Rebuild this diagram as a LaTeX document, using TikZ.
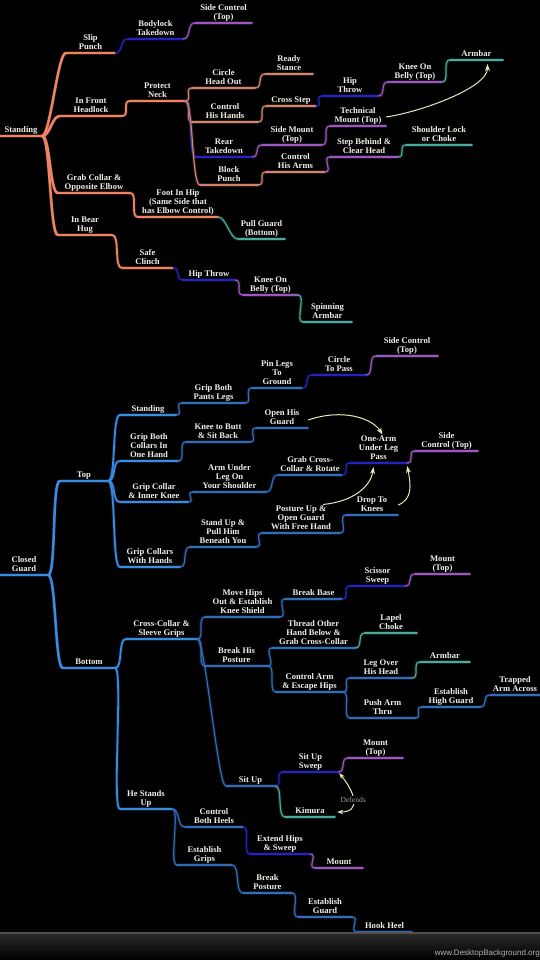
\documentclass[tikz,border=0pt]{standalone}
\usepackage{fontspec}
\setmainfont{Liberation Serif}
\newfontfamily\wmfont{Liberation Sans}
\usetikzlibrary{arrows.meta}
\definecolor{ember}{HTML}{EE8464}
\definecolor{peach}{HTML}{CF8470}
\definecolor{sky}{HTML}{3A8CE2}
\definecolor{steel}{HTML}{336DBA}
\definecolor{navy}{HTML}{2424BE}
\definecolor{plum}{HTML}{9C58C0}
\definecolor{sea}{HTML}{4AAA9C}
\definecolor{paper}{HTML}{F0EEE8}
\definecolor{straw}{HTML}{ECE9B8}
\definecolor{lemon}{HTML}{F7F27A}
\definecolor{ash}{HTML}{A0A0A0}
\definecolor{bandtop}{HTML}{2A2A2A}
\definecolor{bandline}{HTML}{505050}
\newcommand\mapfont{\fontsize{8.6}{9.1}\selectfont\bfseries}
\tikzset{
  uline/.style={draw=#1, line width=1.2pt, line cap=round,
    preaction={draw=#1, line width=3.4pt, opacity=.2}},
  midline/.style={uline=#1, line width=1.8pt},
  bigline/.style={uline=#1, line width=2.5pt},
  topic/.style={text=paper, font=\mapfont, align=center, anchor=south,
    inner xsep=0pt, inner ysep=1.2pt, text depth=1.8pt,
    append after command={\pgfextra{\let\topicnode\tikzlastnode}
      (\topicnode.south west) edge[#1] (\topicnode.south east)}},
  link/.style={to path={.. controls +(8,0) and +(-8,0) .. (\tikztotarget)}},
  hint/.style={draw=straw, line width=1pt,
    -{Stealth[length=7pt, width=5pt, fill=lemon]}},
  both/.style={{Stealth[length=6pt, width=4.5pt, fill=lemon]}-{Stealth[length=6pt, width=4.5pt, fill=lemon]}},
  defends/.style={fill=black, text=ash, font=\fontsize{7.5}{8}\selectfont, inner sep=1.5pt},
  wm/.style={anchor=east, inner sep=0pt, text=ash!80!white, font=\wmfont\fontsize{8}{9}\selectfont},
}
\begin{document}
\begin{tikzpicture}[x=1pt, y=-1pt]
\useasboundingbox (0,0) rectangle (540,960);
\fill[black] (0,0) rectangle (540,960);

\node[topic={bigline=ember}, minimum width=42] (standing) at (21,136) {Standing};
\node[topic={bigline=ember}, minimum width=49] (slip) at (90.5,53) {Slip\\Punch};
\node[topic={uline=navy}, minimum width=55] (bodylock) at (155.5,39) {Bodylock\\Takedown};
\node[topic={uline=plum}, minimum width=57] (sidectrlA) at (223.5,23) {Side Control\\(Top)};
\node[topic={bigline=ember}, minimum width=62] (headlock) at (91,116) {In Front\\Headlock};
\node[topic={midline=ember}, minimum width=55] (neck) at (157.5,101) {Protect\\Neck};
\node[topic={uline=peach}, minimum width=63] (circlehead) at (223.5,88) {Circle\\Head Out};
\node[topic={uline=peach}, minimum width=48] (ready) at (289,74) {Ready\\Stance};
\node[topic={uline=peach}, minimum width=66] (handsctrl) at (225,122) {Control\\His Hands};
\node[topic={uline=peach}, minimum width=50] (crossstep) at (291,106) {Cross Step};
\node[topic={uline=navy}, minimum width=56] (hipthrowA) at (350,96) {Hip\\Throw};
\node[topic={uline=plum}, minimum width=54] (kobA) at (415,82) {Knee On\\Belly (Top)};
\node[topic={uline=sea}, minimum width=53] (armbarA) at (476.5,60) {Armbar};
\node[topic={uline=navy}, minimum width=56] (reartd) at (224,157) {Rear\\Takedown};
\node[topic={uline=plum}, minimum width=60] (sidemount) at (292,145) {Side Mount\\(Top)};
\node[topic={uline=plum}, minimum width=56] (techmount) at (358,126) {Technical\\Mount (Top)};
\node[topic={uline=peach}, minimum width=58] (blockpunch) at (229,185) {Block\\Punch};
\node[topic={uline=peach}, minimum width=59] (armsctrl) at (295.5,172) {Control\\His Arms};
\node[topic={uline=plum}, minimum width=68] (stepbehind) at (364,157) {Step Behind \&\\Clear Head};
\node[topic={uline=sea}, minimum width=66] (shoulderlock) at (439,145) {Shoulder Lock\\or Choke};
\node[topic={bigline=ember}, minimum width=72] (grabcollar) at (94,193) {Grab Collar \&\\Opposite Elbow};
\node[topic={midline=ember}, minimum width=80] (foothip) at (178,217) {Foot In Hip\\(Same Side that\\has Elbow Control)};
\node[topic={uline=sea}, minimum width=47] (pullguard) at (261.5,239) {Pull Guard\\(Bottom)};
\node[topic={bigline=ember}, minimum width=54] (bearhug) at (85,235) {In Bear\\Hug};
\node[topic={midline=ember}, minimum width=51] (clinch) at (147.5,268) {Safe\\Clinch};
\node[topic={uline=navy}, minimum width=52] (hipthrowB) at (209,280) {Hip Throw};
\node[topic={uline=plum}, minimum width=55] (kobB) at (270.5,295) {Knee On\\Belly (Top)};
\node[topic={uline=sea}, minimum width=49] (spinning) at (327.5,322) {Spinning\\Armbar};

\draw[bigline=ember, link] (standing.south east) to (slip.south west);
\draw[bigline=ember, link] (standing.south east) to (headlock.south west);
\draw[bigline=ember, link] (standing.south east) to (grabcollar.south west);
\draw[bigline=ember, link] (standing.south east) to (bearhug.south west);
\draw[uline=navy, link] (slip.south east) to (bodylock.south west);
\draw[uline=plum, link] (bodylock.south east) to (sidectrlA.south west);
\draw[midline=ember, link] (headlock.south east) to (neck.south west);
\draw[uline=peach, link] (neck.south east) to (circlehead.south west);
\draw[uline=peach, link] (neck.south east) to (handsctrl.south west);
\draw[uline=navy, link] (neck.south east) to (reartd.south west);
\draw[uline=peach, link] (neck.south east) to (blockpunch.south west);
\draw[uline=peach, link] (circlehead.south east) to (ready.south west);
\draw[uline=peach, link] (handsctrl.south east) to (crossstep.south west);
\draw[uline=navy, link] (crossstep.south east) to (hipthrowA.south west);
\draw[uline=plum, link] (hipthrowA.south east) to (kobA.south west);
\draw[uline=sea, link] (kobA.south east) to (armbarA.south west);
\draw[uline=plum, link] (reartd.south east) to (sidemount.south west);
\draw[uline=plum, link] (sidemount.south east) to (techmount.south west);
\draw[uline=peach, link] (blockpunch.south east) to (armsctrl.south west);
\draw[uline=plum, link] (armsctrl.south east) to (stepbehind.south west);
\draw[uline=sea, link] (stepbehind.south east) to (shoulderlock.south west);
\draw[midline=ember, link] (grabcollar.south east) to (foothip.south west);
\draw[uline=sea, link] (foothip.south east) to (pullguard.south west);
\draw[midline=ember, link] (bearhug.south east) to (clinch.south west);
\draw[uline=navy, link] (clinch.south east) to (hipthrowB.south west);
\draw[uline=plum, link] (hipthrowB.south east) to (kobB.south west);
\draw[uline=sea, link] (kobB.south east) to (spinning.south west);
\draw[hint] ([yshift=9pt]techmount.south east) .. controls +(34,-5) and +(0,24) .. ([xshift=11pt,yshift=-4pt]armbarA.south);

\node[topic={bigline=sky}, minimum width=48] (closedguard) at (24,575) {Closed\\Guard};
\node[topic={bigline=sky}, minimum width=48] (top) at (84,481) {Top};
\node[topic={midline=sky}, minimum width=56] (standingB) at (148,415) {Standing};
\node[topic={uline=steel}, minimum width=63] (pantslegs) at (213.5,403) {Grip Both\\Pants Legs};
\node[topic={uline=steel}, minimum width=50] (pinlegs) at (277,388) {Pin Legs\\To\\Ground};
\node[topic={uline=navy}, minimum width=54] (circlepass) at (339,375) {Circle\\To Pass};
\node[topic={uline=plum}, minimum width=62] (sidectrlB) at (407,356) {Side Control\\(Top)};
\node[topic={midline=sky}, minimum width=58] (bothcollars) at (149,461) {Grip Both\\Collars In\\One Hand};
\node[topic={uline=steel}, minimum width=64] (kneebutt) at (218,442) {Knee to Butt\\\& Sit Back};
\node[topic={uline=steel}, minimum width=52] (openguard) at (282,428) {Open His\\Guard};
\node[topic={midline=sky}, minimum width=68] (collarknee) at (154,502) {Grip Collar\\\& Inner Knee};
\node[topic={uline=steel}, minimum width=73] (armunder) at (229.5,492) {Arm Under\\Leg On\\Your Shoulder};
\node[topic={uline=steel}, minimum width=64] (crosscollarrot) at (310,475) {Grab Cross-\\Collar \& Rotate};
\node[topic={uline=navy}, minimum width=57] (onearm) at (378.5,463) {One-Arm\\Under Leg\\Pass};
\node[topic={uline=plum}, minimum width=63] (sidectrlC) at (446.5,451) {Side\\Control (Top)};
\node[topic={midline=sky}, minimum width=60] (collarshands) at (150,567) {Grip Collars\\With Hands};
\node[topic={uline=steel}, minimum width=66] (standup) at (223,547) {Stand Up \&\\Pull Him\\Beneath You};
\node[topic={uline=steel}, minimum width=78] (postureup) at (301,533) {Posture Up \&\\Open Guard\\With Free Hand};
\node[topic={uline=steel}, minimum width=52] (dropknees) at (372,515) {Drop To\\Knees};

\draw[bigline=sky, link] (closedguard.south east) to (top.south west);
\draw[midline=sky, link] (top.south east) to (standingB.south west);
\draw[midline=sky, link] (top.south east) to (bothcollars.south west);
\draw[midline=sky, link] (top.south east) to (collarknee.south west);
\draw[midline=sky, link] (top.south east) to (collarshands.south west);
\draw[uline=steel, link] (standingB.south east) to (pantslegs.south west);
\draw[uline=steel, link] (pantslegs.south east) to (pinlegs.south west);
\draw[uline=navy, link] (pinlegs.south east) to (circlepass.south west);
\draw[uline=plum, link] (circlepass.south east) to (sidectrlB.south west);
\draw[uline=steel, link] (bothcollars.south east) to (kneebutt.south west);
\draw[uline=steel, link] (kneebutt.south east) to (openguard.south west);
\draw[uline=steel, link] (collarknee.south east) to (armunder.south west);
\draw[uline=steel, link] (armunder.south east) to (crosscollarrot.south west);
\draw[uline=navy, link] (crosscollarrot.south east) to (onearm.south west);
\draw[uline=plum, link] (onearm.south east) to (sidectrlC.south west);
\draw[uline=steel, link] (collarshands.south east) to (standup.south west);
\draw[uline=steel, link] (standup.south east) to (postureup.south west);
\draw[uline=steel, link] (postureup.south east) to (dropknees.south west);
\draw[hint] ([yshift=8pt]openguard.south east) .. controls +(35,-12) and +(-10,-16) .. ([xshift=4pt]onearm.north);
\draw[hint] ([xshift=22pt]postureup.north) .. controls +(30,-3) and +(-3,20) .. ([xshift=-5pt,yshift=-4pt]onearm.south);
\draw[hint] ([yshift=10pt]dropknees.south east) .. controls +(14,-6) and +(4,20) .. ([yshift=-3pt]onearm.south east);

\node[topic={bigline=sky}, minimum width=52] (bottom) at (89,668) {Bottom};
\node[topic={midline=sky}, minimum width=71] (crosssleeve) at (161.5,639) {Cross-Collar \&\\Sleeve Grips};
\node[topic={uline=steel}, minimum width=75] (movehips) at (242.5,617) {Move Hips\\Out \& Establish\\Knee Shield};
\node[topic={uline=steel}, minimum width=57] (breakbase) at (313.5,599) {Break Base};
\node[topic={uline=navy}, minimum width=55] (scissor) at (377.5,586) {Scissor\\Sweep};
\node[topic={uline=plum}, minimum width=55] (mountA) at (442.5,574) {Mount\\(Top)};
\node[topic={uline=steel}, minimum width=63] (breakposture) at (236.5,666) {Break His\\Posture};
\node[topic={uline=steel}, minimum width=83] (thread) at (313.5,648) {Thread Other\\Hand Below \&\\Grab Cross-Collar};
\node[topic={uline=sea}, minimum width=52] (lapel) at (391,633) {Lapel\\Choke};
\node[topic={uline=steel}, minimum width=67] (escapehips) at (309.5,692) {Control Arm\\\& Escape Hips};
\node[topic={uline=steel}, minimum width=62] (legover) at (381,678) {Leg Over\\His Head};
\node[topic={uline=sea}, minimum width=50] (armbarB) at (445,662) {Armbar};
\node[topic={uline=steel}, minimum width=65] (pusharm) at (382.5,718) {Push Arm\\Thru};
\node[topic={uline=steel}, minimum width=58] (highguard) at (451,707) {Establish\\High Guard};
\node[topic={uline=steel}, minimum width=50] (trapped) at (515,695) {Trapped\\Arm Across};
\node[topic={uline=steel}, minimum width=49] (situp) at (250.5,786) {Sit Up};
\node[topic={uline=navy}, minimum width=55] (situpsweep) at (310.5,772) {Sit Up\\Sweep};
\node[topic={uline=plum}, minimum width=55] (mountB) at (375.5,758) {Mount\\(Top)};
\node[topic={uline=sea}, minimum width=50] (kimura) at (310,817) {Kimura};
\node[topic={midline=sky}, minimum width=52] (standsup) at (146,809) {He Stands\\Up};
\node[topic={uline=steel}, minimum width=58] (heels) at (214,827) {Control\\Both Heels};
\node[topic={uline=navy}, minimum width=60] (extendhips) at (280,854) {Extend Hips\\\& Sweep};
\node[topic={uline=plum}, minimum width=48] (mountC) at (339,868) {Mount};
\node[topic={uline=steel}, minimum width=55] (grips) at (204.5,865) {Establish\\Grips};
\node[topic={uline=steel}, minimum width=49] (breakpost) at (267.5,893) {Break\\Posture};
\node[topic={uline=steel}, minimum width=54] (estguard) at (325,917) {Establish\\Guard};
\node[topic={uline=steel}, minimum width=55] (hookheel) at (384.5,932) {Hook Heel};

\draw[bigline=sky, link] (closedguard.south east) to (bottom.south west);
\draw[midline=sky, link] (bottom.south east) to (crosssleeve.south west);
\draw[midline=sky, link] (bottom.south east) to (standsup.south west);
\draw[uline=steel, link] (crosssleeve.south east) to (movehips.south west);
\draw[uline=steel, link] (crosssleeve.south east) to (breakposture.south west);
\draw[uline=steel, link] (crosssleeve.south east) to (situp.south west);
\draw[uline=steel, link] (movehips.south east) to (breakbase.south west);
\draw[uline=navy, link] (breakbase.south east) to (scissor.south west);
\draw[uline=plum, link] (scissor.south east) to (mountA.south west);
\draw[uline=steel, link] (breakposture.south east) to (thread.south west);
\draw[uline=steel, link] (breakposture.south east) to (escapehips.south west);
\draw[uline=sea, link] (thread.south east) to (lapel.south west);
\draw[uline=steel, link] (escapehips.south east) to (legover.south west);
\draw[uline=steel, link] (escapehips.south east) to (pusharm.south west);
\draw[uline=sea, link] (legover.south east) to (armbarB.south west);
\draw[uline=steel, link] (pusharm.south east) to (highguard.south west);
\draw[uline=steel, link] (highguard.south east) to (trapped.south west);
\draw[uline=navy, link] (situp.south east) to (situpsweep.south west);
\draw[uline=sea, link] (situp.south east) to (kimura.south west);
\draw[uline=plum, link] (situpsweep.south east) to (mountB.south west);
\draw[uline=steel, link] (standsup.south east) to (heels.south west);
\draw[uline=steel, link] (standsup.south east) to (grips.south west);
\draw[uline=navy, link] (heels.south east) to (extendhips.south west);
\draw[uline=plum, link] (extendhips.south east) to (mountC.south west);
\draw[uline=steel, link] (grips.south east) to (breakpost.south west);
\draw[uline=steel, link] (breakpost.south east) to (estguard.south west);
\draw[uline=steel, link] (estguard.south east) to (hookheel.south west);
\draw[hint, both] ([xshift=2pt,yshift=5pt]kimura.south east) .. controls +(24,0) and +(16,20) .. ([xshift=1pt,yshift=-1pt]situpsweep.south east) node[defends, pos=.5] (defendslabel) {Defends};

\shade[top color=bandtop, bottom color=black] (0,933) rectangle (540,960);
\draw[bandline, line width=1.2pt] (0,933) -- (540,933);
\node[wm] (watermark) at (540,953) {www.DesktopBackground.org};
\end{tikzpicture}
\end{document}
